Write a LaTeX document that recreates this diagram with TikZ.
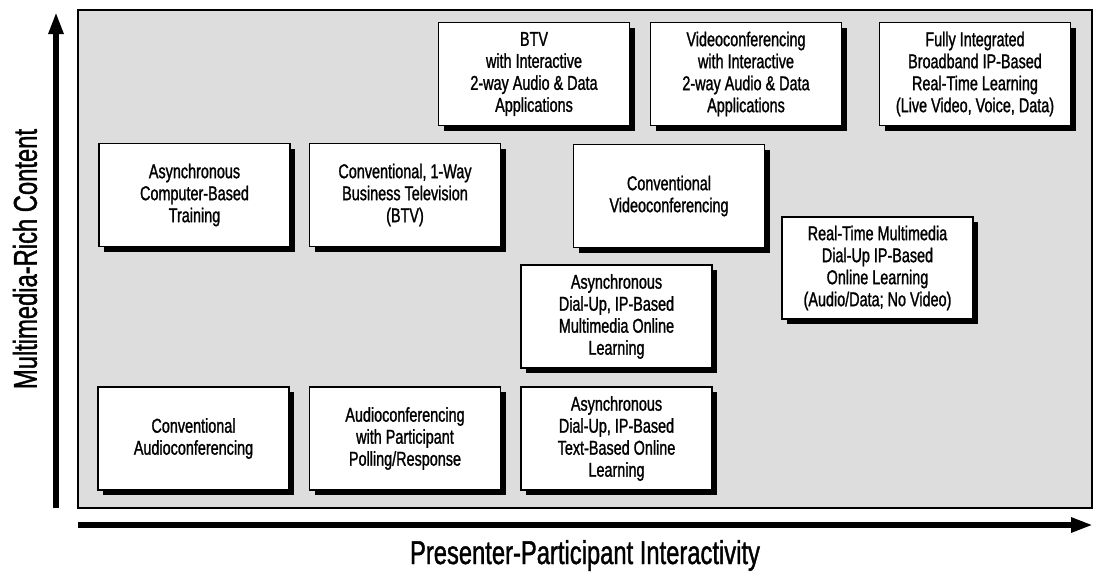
\documentclass[tikz,border=0pt]{standalone}
\usepackage{fontspec}
\setmainfont{Liberation Sans}
\newfontfamily\condfont[FakeStretch=0.72,FakeBold=1.2]{Liberation Sans}
\usetikzlibrary{arrows.meta,shadows}
\definecolor{panelgray}{HTML}{DDDDDD}
\tikzset{
  panel/.style={draw=black,line width=1.3pt,fill=panelgray},
  box/.style={draw=black,line width=1.2pt,fill=white,align=center,
    minimum width=191pt,minimum height=103pt,inner sep=0pt,
    font=\condfont\fontsize{20}{22}\selectfont,
    drop shadow={shadow xshift=5pt,shadow yshift=-5pt,fill=black,opacity=1}},
  axis/.style={line width=6.5pt,-{Triangle[length=22pt,width=14pt]}},
  axislabel/.style={font=\condfont\fontsize{33}{36}\selectfont,inner sep=0pt}
}
\begin{document}
\begin{tikzpicture}[x=1pt,y=-1pt]
\useasboundingbox (0,0) rectangle (1097,571);
\draw[panel] (78,10) rectangle (1092,508);
% axes
\coordinate (ybot) at (56,508);
\coordinate (ytop) at (56,12);
\coordinate (xleft) at (78,525);
\coordinate (xright) at (1093,525);
\draw[axis] (ybot) -- (ytop);
\draw[axis] (xleft) -- (xright);
\node[axislabel,rotate=90] (ylab) at (25,259) {Multimedia-Rich Content};
\node[axislabel,anchor=base] (xlab) at (585,564) {Presenter-Participant Interactivity};
% boxes
\node[box] (btv) at (534,74) {BTV\\with Interactive\\2-way Audio \& Data\\Applications};
\node[box] (vidint) at (746,74) {Videoconferencing\\with Interactive\\2-way Audio \& Data\\Applications};
\node[box] (full) at (975,74) {Fully Integrated\\Broadband IP-Based\\Real-Time Learning\\(Live Video, Voice, Data)};
\node[box] (cbt) at (194.5,195) {Asynchronous\\Computer-Based\\Training};
\node[box] (conv1) at (405,195) {Conventional, 1-Way\\Business Television\\(BTV)};
\node[box] (convvid) at (669,196) {Conventional\\Videoconferencing};
\node[box,minimum height=102pt] (realtime) at (877.5,268) {Real-Time Multimedia\\Dial-Up IP-Based\\Online Learning\\(Audio/Data; No Video)};
\node[box] (asyncmm) at (616.5,316.5) {Asynchronous\\Dial-Up, IP-Based\\Multimedia Online\\Learning};
\node[box] (convaudio) at (193.5,438.5) {Conventional\\Audioconferencing};
\node[box] (audiopoll) at (405,438.5) {Audioconferencing\\with Participant\\Polling/Response};
\node[box] (asynctext) at (616.5,438.5) {Asynchronous\\Dial-Up, IP-Based\\Text-Based Online\\Learning};
\end{tikzpicture}
\end{document}
